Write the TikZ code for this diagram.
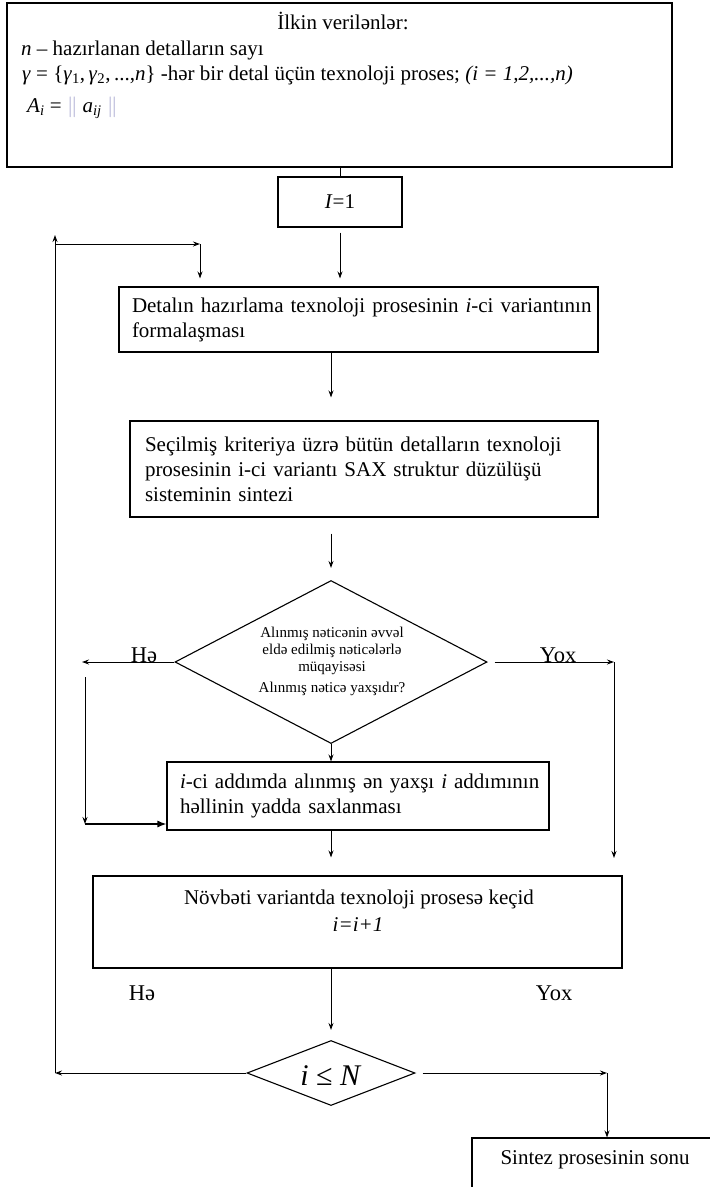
\documentclass[tikz,border=0pt]{standalone}
\usepackage{fontspec}
\setmainfont{Liberation Serif}
\usetikzlibrary{shapes.geometric,arrows.meta,calc}
\begin{document}
\begin{tikzpicture}[x=1pt,y=-1pt,
  box/.style={draw, line width=1.1pt, rectangle, inner sep=0pt},
  txt/.style={font=\fontsize{21}{25}\selectfont, inner sep=0pt},
  small/.style={font=\fontsize{15}{17}\selectfont, inner sep=0pt},
  flow/.style={line width=1pt, -{Stealth[length=7pt,width=5pt]}},
  fillhead/.style={line width=1.3pt, -{Latex[length=9pt,width=7pt]}},
  plain/.style={line width=1pt},
  dia/.style={draw, diamond, line width=1.1pt, inner sep=0pt},
  lbl/.style={font=\fontsize{22.5}{26}\selectfont, inner sep=0pt, anchor=base}
]
\useasboundingbox (0,0) rectangle (710,1187);
\fill[white] (0,0) rectangle (710,1187);

% input data
\node[box, minimum width=665, minimum height=164] (top) at (339.5,85) {};
\node[txt, anchor=base] (ttl) at (343,29) {İlkin verilənlər:};
\node[txt, anchor=base west] (tn) at (21,55) {\textit{n} – hazırlanan detalların sayı};
\node[txt, anchor=base west] (tg) at (22,80) {\textit{γ} = \{\textit{γ}\textsubscript{1},\,\textit{γ}\textsubscript{2},\,...,\textit{n}\} -hər bir\ detal üçün texnoloji proses; \textit{(i = 1,2,...,n)}};
\node[txt, anchor=base west] (ta) at (27,112) {\textit{A}\textsubscript{\textit{i}} = {\color{blue!30!gray!55}$\|$} \textit{a}\textsubscript{\textit{ij}} {\color{blue!30!gray!55}$\|$}};

% counter
\node[box, txt, minimum width=124, minimum height=50] (i1) at (340,202) {\textit{I}=1};

% process steps
\node[box, txt, minimum width=479, minimum height=65, text width=453, align=left] (b2) at (358.5,319.5)
  {\mbox{Detalın hazırlama texnoloji prosesinin \textit{i}-ci variantının}\\formalaşması};
\node[box, txt, minimum width=468, minimum height=96, text width=438, align=left] (b3) at (364,469)
  {\mbox{Seçilmiş kriteriya üzrə bütün detalların texnoloji}\\\mbox{prosesinin i-ci variantı SAX struktur düzülüşü}\\sisteminin sintezi};

% comparison
\node[dia, minimum width=312, minimum height=163] (d1) at (331,662) {};
\node[small, align=center] (d1t) at (332,661)
  {Alınmış nəticənin əvvəl\\eldə edilmiş nəticələrlə\\müqayisəsi\\[4pt]Alınmış nəticə yaxşıdır?};

\node[box, txt, minimum width=382, minimum height=68, text width=356, align=left] (b4) at (358,796)
  {\mbox{\textit{i}-ci addımda alınmış ən yaxşı \textit{i} addımının}\\həllinin yadda saxlanması};

\node[box, minimum width=529, minimum height=92] (b5) at (357.5,922) {};
\node[txt, anchor=base] (b5a) at (359,904) {Növbəti variantda texnoloji prosesə keçid};
\node[txt, anchor=base] (b5b) at (358,931) {\textit{i=i+1}};

% loop test
\node[dia, minimum width=168, minimum height=65] (d2) at (331,1073) {};
\node[inner sep=0pt, font=\fontsize{30}{32}\selectfont] (d2t) at (331,1076) {\textit{i} ≤ \textit{N}};

\node[box, minimum width=246, minimum height=80] (end) at (595,1178) {};
\node[txt, anchor=base] (endt) at (595,1164) {Sintez prosesinin sonu};

% branch labels
\node[lbl] (he1) at (144,662) {Hə};
\node[lbl] (yox1) at (558,662) {Yox};
\node[lbl] (he2) at (142,1000) {Hə};
\node[lbl] (yox2) at (554,1000) {Yox};

% free ends of the connectors
\coordinate (hL) at (82,662);
\coordinate (hT) at (85,677);
\coordinate (hB) at (85,824);
\coordinate (yR) at (614,662);
\coordinate (yB) at (614,858);
\coordinate (lB) at (55,1073);
\coordinate (lT) at (55,235);
\coordinate (lC) at (55,244);
\coordinate (rC) at (200,244);
\coordinate (eR) at (607,1073);

% connectors
\draw[plain] (i1.north) -- (i1.north |- top.south);
\draw[flow, shorten <=5pt, shorten >=8pt] (i1.south) -- (i1.south |- b2.north);
\draw[flow, shorten >=23pt] (b2.south -| d1.north) -- (b3.north -| d1.north);
\draw[flow, shorten <=16pt, shorten >=12pt] (b3.south -| d1.north) -- (d1.north);
\draw[flow] (d1.south) -- (b4.north -| d1.south);
\draw[flow] (d1.west) -- (hL);
\draw[flow] (hT) -- (hB);
\draw[fillhead] (hB) -- (hB -| b4.west);
\draw[flow, shorten <=7pt] (d1.east) -- (yR);
\draw[flow] (yR) -- (yB);
\draw[flow, shorten >=18pt] (b4.south -| d1.south) -- (b5.north -| d1.south);
\draw[flow, shorten >=10pt] (b5.south -| d2.north) -- (d2.north);
\draw[flow] (d2.west) -- (lB);
\draw[flow] (lB) -- (lT);
\draw[flow] (lC) -- (rC);
\draw[flow, shorten >=8pt] (rC) -- (rC |- b2.north);
\draw[flow, shorten <=7pt] (d2.east) -- (eR);
\draw[flow] (eR) -- (eR |- end.north);
\end{tikzpicture}
\end{document}
